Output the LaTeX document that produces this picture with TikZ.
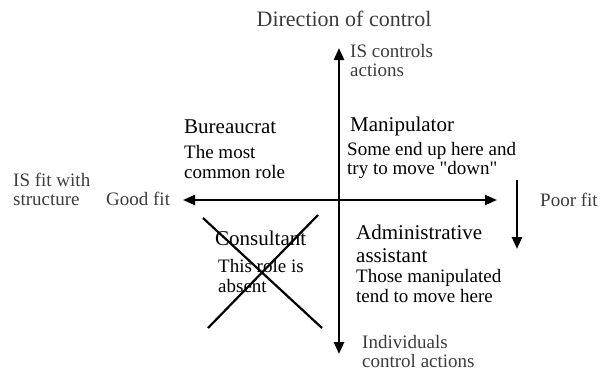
\documentclass[tikz,border=0pt]{standalone}
\usepackage{fontspec}
\setmainfont{Liberation Serif}[Ligatures=TeXOff]
\usetikzlibrary{arrows.meta}
\definecolor{axisgray}{HTML}{3C3C3C}
\tikzset{
  axisline/.style={line width=2.4pt, black, -{Triangle[length=12pt,width=10pt]}},
  biaxis/.style={line width=2.4pt, black, {Triangle[length=12pt,width=10pt]}-{Triangle[length=12pt,width=10pt]}},
  crossline/.style={line width=2.2pt, black},
  lbl/.style={anchor=base west, inner sep=0pt, text=axisgray, font=\fontsize{19}{21}\selectfont},
  ttl/.style={anchor=base, inner sep=0pt, text=axisgray, font=\fontsize{22}{24}\selectfont},
  head/.style={anchor=base west, inner sep=0pt, text=black, font=\fontsize{21}{23}\selectfont},
  desc/.style={anchor=base west, inner sep=0pt, text=black, font=\fontsize{19}{21}\selectfont}
}
\begin{document}
\begin{tikzpicture}[x=1pt,y=-1pt]
\useasboundingbox (0,0) rectangle (608,370);
% axes
\coordinate (top) at (339,48);
\coordinate (bot) at (339,354);
\coordinate (lft) at (183,200);
\coordinate (rgt) at (497,200);
\draw[biaxis] (bot) -- (top);
\draw[biaxis] (lft) -- (rgt);
% small down arrow
\coordinate (dtop) at (517,180);
\coordinate (dbot) at (517,249);
\draw[axisline] (dtop) -- (dbot);
% axis labels
\node[ttl] (dir) at (344,26) {Direction of control};
\node[lbl] (isc1) at (350,57) {IS controls};
\node[lbl] (isc2) at (350,76) {actions};
\node[lbl] (fit1) at (13,186) {IS fit with};
\node[lbl] (fit2) at (13,205) {structure};
\node[lbl] (good) at (106,205) {Good fit};
\node[lbl] (poor) at (540,206) {Poor fit};
\node[lbl] (ind1) at (362,348) {Individuals};
\node[lbl] (ind2) at (362,367) {control actions};
% Bureaucrat
\node[head] (bur) at (184,133) {Bureaucrat};
\node[desc] (bur1) at (184,158) {The most};
\node[desc] (bur2) at (184,178) {common role};
% Manipulator
\node[head] (man) at (350,131) {Manipulator};
\node[desc] (man1) at (347,155) {Some end up here and};
\node[desc] (man2) at (347,174) {try to move "down"};
% Consultant
\node[head] (con) at (215,245) {Consultant};
\node[desc] (con1) at (218,272) {This role is};
\node[desc] (con2) at (218,292) {absent};
% Administrative assistant
\node[head] (adm) at (356,239) {Administrative};
\node[head] (adm2) at (356,262) {assistant};
\node[desc] (adm3) at (356,282) {Those manipulated};
\node[desc] (adm4) at (356,302) {tend to move here};
% cross
\coordinate (xa) at (203,218);
\coordinate (xb) at (322,328);
\coordinate (xc) at (208,328);
\coordinate (xd) at (318,215);
\draw[crossline] (xa) -- (xb);
\draw[crossline] (xc) -- (xd);
\end{tikzpicture}
\end{document}
